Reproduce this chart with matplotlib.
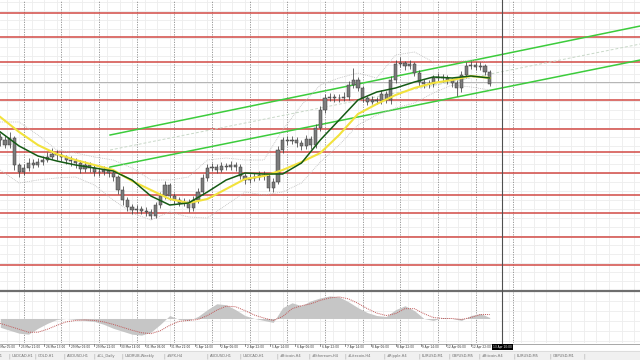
import matplotlib
matplotlib.use("Agg")
import matplotlib.pyplot as plt
import matplotlib.transforms as mtransforms
import numpy as np

# EURUSD H1, t = trading hours counted from 25 Mar 05:00, candles sampled every 3 hours
candle_t = np.arange(4, 317, 3)
first_open = 1.1863
close = [1.1860, 1.1855, 1.1862, 1.1835, 1.1828, 1.1832, 1.1837, 1.1835, 1.1838, 1.1840,
         1.1843, 1.1846, 1.1845, 1.1843, 1.1840, 1.1839, 1.1837, 1.1831, 1.1835, 1.1832,
         1.1828, 1.1828, 1.1830, 1.1827, 1.1823, 1.1810, 1.1800, 1.1793, 1.1790, 1.1791,
         1.1789, 1.1788, 1.1784, 1.1795, 1.1804, 1.1815, 1.1804, 1.1800, 1.1797, 1.1798,
         1.1792, 1.1800, 1.1808, 1.1822, 1.1832, 1.1833, 1.1830, 1.1834, 1.1833, 1.1835,
         1.1833, 1.1824, 1.1820, 1.1822, 1.1823, 1.1825, 1.1824, 1.1812, 1.1818, 1.1850,
         1.1860, 1.1859, 1.1860, 1.1857, 1.1854, 1.1861, 1.1855, 1.1872, 1.1890, 1.1902,
         1.1903, 1.1902, 1.1902, 1.1903, 1.1915, 1.1920, 1.1912, 1.1902, 1.1898, 1.1900,
         1.1899, 1.1906, 1.1900, 1.1920, 1.1936, 1.1937, 1.1934, 1.1936, 1.1927, 1.1918,
         1.1916, 1.1916, 1.1922, 1.1923, 1.1922, 1.1920, 1.1917, 1.1912, 1.1925, 1.1934,
         1.1935, 1.1933, 1.1934, 1.1928, 1.1916]
high = [1.1867, 1.1864, 1.1868, 1.1864, 1.1837, 1.1836, 1.1842, 1.1841, 1.1842, 1.1844,
        1.1848, 1.1852, 1.1850, 1.1848, 1.1845, 1.1844, 1.1842, 1.1840, 1.1839, 1.1838,
        1.1835, 1.1832, 1.1834, 1.1833, 1.1829, 1.1825, 1.1814, 1.1803, 1.1796, 1.1795,
        1.1794, 1.1793, 1.1791, 1.1798, 1.1808, 1.1819, 1.1817, 1.1807, 1.1803, 1.1802,
        1.1801, 1.1804, 1.1812, 1.1826, 1.1836, 1.1837, 1.1836, 1.1838, 1.1837, 1.1839,
        1.1838, 1.1836, 1.1827, 1.1826, 1.1827, 1.1829, 1.1829, 1.1827, 1.1822, 1.1854,
        1.1863, 1.1864, 1.1864, 1.1863, 1.1860, 1.1865, 1.1864, 1.1876, 1.1894, 1.1906,
        1.1907, 1.1906, 1.1906, 1.1908, 1.1919, 1.1932, 1.1923, 1.1914, 1.1904, 1.1904,
        1.1903, 1.1910, 1.1909, 1.1924, 1.1940, 1.1943, 1.1939, 1.1940, 1.1938, 1.1930,
        1.1921, 1.1920, 1.1925, 1.1927, 1.1926, 1.1925, 1.1922, 1.1920, 1.1929, 1.1938,
        1.1939, 1.1938, 1.1938, 1.1936, 1.1930]
low = [1.1854, 1.1852, 1.1852, 1.1830, 1.1823, 1.1825, 1.1829, 1.1832, 1.1833, 1.1835,
       1.1838, 1.1841, 1.1840, 1.1839, 1.1836, 1.1834, 1.1832, 1.1827, 1.1828, 1.1828,
       1.1824, 1.1824, 1.1825, 1.1823, 1.1819, 1.1806, 1.1795, 1.1789, 1.1786, 1.1787,
       1.1786, 1.1784, 1.1781, 1.1782, 1.1792, 1.1801, 1.1800, 1.1796, 1.1794, 1.1794,
       1.1788, 1.1789, 1.1797, 1.1805, 1.1819, 1.1829, 1.1827, 1.1828, 1.1830, 1.1830,
       1.1829, 1.1821, 1.1816, 1.1817, 1.1819, 1.1820, 1.1820, 1.1809, 1.1808, 1.1816,
       1.1847, 1.1855, 1.1856, 1.1853, 1.1850, 1.1851, 1.1851, 1.1852, 1.1869, 1.1887,
       1.1899, 1.1898, 1.1898, 1.1899, 1.1900, 1.1912, 1.1909, 1.1898, 1.1895, 1.1896,
       1.1896, 1.1896, 1.1897, 1.1896, 1.1917, 1.1933, 1.1930, 1.1931, 1.1924, 1.1914,
       1.1912, 1.1912, 1.1913, 1.1919, 1.1918, 1.1916, 1.1913, 1.1904, 1.1908, 1.1922,
       1.1931, 1.1930, 1.1930, 1.1925, 1.1914]

# moving averages and bollinger bands, every 12 hours
ma_t = np.arange(4, 317, 12)
ma_fast = [1.1868, 1.1854, 1.1844, 1.1839, 1.1835, 1.1832, 1.1829, 1.1820, 1.1804, 1.1795,
           1.1797, 1.1808, 1.1820, 1.1827, 1.1826, 1.1826, 1.1837, 1.1860, 1.1880, 1.1900,
           1.1908, 1.1912, 1.1918, 1.1923, 1.1922, 1.1924, 1.1922]
ma_slow = [1.1883, 1.1868, 1.1855, 1.1846, 1.1840, 1.1835, 1.1830, 1.1819, 1.1810, 1.1801,
           1.1797, 1.1801, 1.1811, 1.1821, 1.1824, 1.1830, 1.1838, 1.1847, 1.1865, 1.1886,
           1.1896, 1.1905, 1.1912, 1.1917, 1.1920, 1.1924, 1.1922]
bb_upper = [1.1878, 1.1878, 1.1865, 1.1850, 1.1847, 1.1843, 1.1840, 1.1832, 1.1820, 1.1820,
            1.1823, 1.1840, 1.1842, 1.1840, 1.1840, 1.1870, 1.1895, 1.1915, 1.1922, 1.1927,
            1.1922, 1.1945, 1.1948, 1.1938, 1.1938, 1.1940, 1.1938]
bb_lower = [1.1830, 1.1817, 1.1820, 1.1822, 1.1823, 1.1815, 1.1800, 1.1787, 1.1780, 1.1788,
            1.1783, 1.1782, 1.1795, 1.1808, 1.1805, 1.1808, 1.1817, 1.1838, 1.1855, 1.1875,
            1.1885, 1.1892, 1.1897, 1.1907, 1.1915, 1.1913, 1.1910]

# MACD, every 6 hours
macd_t = np.arange(4, 317, 6)
macd_hist = [-0.00018, -0.00024, -0.00030, -0.00032, -0.00020, -0.00010, -0.00002, 0.00000,
             -0.00002, -0.00004, -0.00006, -0.00012, -0.00020, -0.00026, -0.00032, -0.00034,
             -0.00028, -0.00012, 0.00006, -0.00002, -0.00004, 0.00004, 0.00018, 0.00030,
             0.00028, 0.00018, 0.00006, 0.00000, -0.00004, -0.00008, 0.00022, 0.00032,
             0.00026, 0.00036, 0.00042, 0.00046, 0.00044, 0.00034, 0.00022, 0.00012,
             0.00006, 0.00004, 0.00018, 0.00026, 0.00016, 0.00000, -0.00004, 0.00002,
             0.00000, -0.00004, 0.00006, 0.00010, 0.00002]
macd_signal = [-0.00010, -0.00016, -0.00022, -0.00028, -0.00028, -0.00022, -0.00014, -0.00007,
               -0.00004, -0.00003, -0.00004, -0.00007, -0.00012, -0.00018, -0.00024, -0.00029,
               -0.00031, -0.00025, -0.00014, -0.00006, -0.00004, -0.00002, 0.00006, 0.00017,
               0.00025, 0.00024, 0.00016, 0.00007, 0.00001, -0.00004, 0.00004, 0.00020,
               0.00026, 0.00030, 0.00037, 0.00042, 0.00044, 0.00040, 0.00031, 0.00020,
               0.00011, 0.00006, 0.00010, 0.00020, 0.00020, 0.00010, 0.00002, 0.00000,
               0.00000, -0.00002, 0.00002, 0.00008, 0.00008]

levels = [1.1987, 1.1963, 1.1938, 1.1900, 1.1871, 1.1848, 1.1827, 1.1805, 1.1787, 1.1763, 1.1735]
bid = 1.1918

chan_t = [74, 412]
chan_upper = [1.1865, 1.1974]
chan_mid = [1.1850, 1.1956]
chan_lower = [1.1833, 1.1940]

now_t = 324
now_label = "13 Apr 10:00"

time_labels = ["25 Mar 05:00", "25 Mar 21:00", "26 Mar 13:00", "29 Mar 06:00", "29 Mar 22:00",
               "30 Mar 14:00", "31 Mar 06:00", "31 Mar 22:00", "1 Apr 14:00", "2 Apr 06:00",
               "2 Apr 22:00", "5 Apr 14:00", "6 Apr 06:00", "6 Apr 22:00", "7 Apr 14:00",
               "8 Apr 06:00", "8 Apr 22:00", "9 Apr 14:00", "12 Apr 06:00", "12 Apr 22:00"]
day_starts = np.arange(19, 340, 24)

tabs = ["AUDUSD,H1", "USDCAD,H1", "GOLD,H1", "AUDUSD,H1", "#CL_Daily", "USDRUB,Weekly",
        "#SPX,H4", "AUDUSD,H1", "USDCAD,H1", "#Bitcoin,H4", "#Ethereum,H4", "#Litecoin,H4",
        "#Ripple,H4", "EURUSD,M1", "GBPUSD,M5", "#Bitcoin,H4", "EURUSD,M5", "GBPUSD,M1"]
TAB_X = [-19, 12, 38, 67, 97, 125, 167, 210, 243, 280, 312, 348, 387, 422, 452, 482, 517, 553]

W, H = 640, 360
PX_PER_BAR = 25.1 / 16
X0 = 6 / PX_PER_BAR

fig = plt.figure(figsize=(W / 100, H / 100), dpi=100)
fig.patch.set_facecolor("white")


def fy(py):
    return 1 - py / H


ax = fig.add_axes([0, fy(290), 1, 290 / H])
ax2 = fig.add_axes([0, fy(343), 1, 51 / H])
for a in (ax, ax2):
    a.set_xlim(X0, X0 + W / PX_PER_BAR)
    a.axis("off")
ax.set_ylim(1.1710, 1.2000)
ax2.set_ylim(-0.00050, 0.00054)

# light grid
for a in (ax, ax2):
    for gt in np.arange(0, 420, 8):
        a.axvline(gt, color="#ededed", lw=0.6, zorder=0)
for gp in np.arange(1.1710, 1.2000, 0.0009):
    ax.axhline(gp, color="#ededed", lw=0.6, zorder=0)
for gp in np.arange(-0.00045, 0.00054, 0.0002):
    ax2.axhline(gp, color="#ededed", lw=0.6, zorder=0)

# period separators
for a in (ax, ax2):
    for d in day_starts:
        a.axvline(d, color="#8c8c8c", lw=0.6, ls=(0, (1.5, 1.5)), zorder=1)

# support / resistance levels
for lv in levels:
    ax.axhline(lv, color="#d24a45", lw=1.1, zorder=2)
ax.axhline(bid, color="#b4b4b4", lw=0.7, zorder=2)

# channel
ax.plot(chan_t, chan_upper, color="#3ccc3c", lw=1.1, zorder=3)
ax.plot(chan_t, chan_lower, color="#3ccc3c", lw=1.1, zorder=3)
ax.plot(chan_t, chan_mid, color="#c8d8c8", lw=0.7, ls=(0, (3, 2)), zorder=3)

# bollinger
ax.plot(ma_t, bb_upper, color="#bdbdbd", lw=0.6, ls=(0, (1, 1.2)), zorder=3)
ax.plot(ma_t, bb_lower, color="#bdbdbd", lw=0.6, ls=(0, (1, 1.2)), zorder=3)

# candles
close = np.array(close)
opens = np.r_[first_open, close[:-1]]
ax.vlines(candle_t, low, high, color="#444444", lw=0.55, zorder=4)
ax.bar(candle_t, close - opens, bottom=opens, width=2.0, color="#7c7c7c",
       edgecolor="#3a3a3a", lw=0.35, zorder=4)

# moving averages
ax.plot(ma_t, ma_slow, color="#f2e23c", lw=1.5, zorder=5)
ax.plot(ma_t, ma_fast, color="#145a14", lw=1.1, zorder=6)

# MACD
ax2.fill_between(macd_t, 0, macd_hist, color="#c6c6c6", lw=0, zorder=2)
ax2.plot(macd_t, macd_signal, color="#c05858", lw=0.7, ls=(0, (1, 1)), zorder=3)

# panel separator, bottom border, current time line
fig.add_artist(plt.Line2D([0, 1], [fy(290.5), fy(290.5)], color="#6e6e6e", lw=1.6))
fig.add_artist(plt.Line2D([0, 1], [fy(343.5), fy(343.5)], color="#9a9a9a", lw=0.6))
trans = mtransforms.blended_transform_factory(ax.transData, fig.transFigure)
fig.add_artist(plt.Line2D([now_t, now_t], [fy(0), fy(343.5)], color="#505050", lw=0.8,
                          transform=trans))

# time axis
for k, lab in enumerate(time_labels):
    tk = 16 * k
    fig.add_artist(plt.Line2D([tk, tk], [fy(343.5), fy(346)], color="#606060", lw=0.5,
                              transform=trans))
    fig.text(tk + 1.0, fy(347.3), lab, transform=trans, fontsize=2.1, color="#303030",
             va="center", ha="left")
fig.text(now_t, fy(347.3), now_label, transform=trans, fontsize=2.1, color="white",
         va="center", ha="center", zorder=5,
         bbox=dict(boxstyle="square,pad=0.3", fc="black", ec="black", lw=0))

# tab bar
fig.add_artist(plt.Rectangle((0, 0), 1, fy(351), transform=fig.transFigure,
                             color="#f0f0f0", zorder=0))
fig.add_artist(plt.Line2D([0, 1], [fy(351), fy(351)], color="#d4d4d4", lw=0.5))
for name, x in zip(tabs, TAB_X):
    fig.text(x / W, fy(356), name, fontsize=2.6, color="#6a6a6a", va="center", ha="left")
    fig.text((x - 4) / W, fy(356), "|", fontsize=3.5, color="#a0a0a0", va="center")
fig.text(583 / W, fy(356), "|", fontsize=3.5, color="#a0a0a0", va="center")

fig.savefig("out.png", dpi=100, facecolor="white")
